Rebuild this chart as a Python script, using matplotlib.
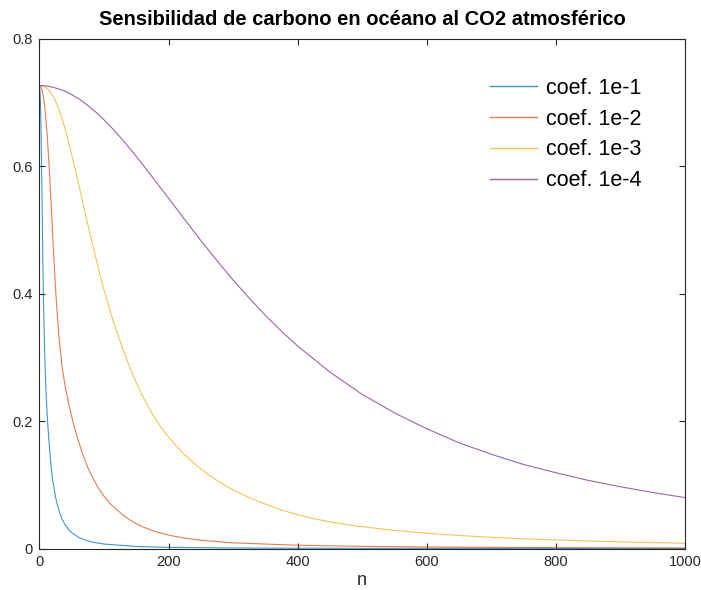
import matplotlib
matplotlib.use("Agg")
import matplotlib.pyplot as plt

plt.rcParams['font.family'] = ['Liberation Sans', 'DejaVu Sans']

# sensitivity curves, one per coefficient
n_1 = [0, 0.5, 1, 1.5, 2, 2.5, 3, 3.5, 4, 4.5, 5, 6, 7, 8, 9, 10, 11, 12, 13,
       15, 17, 20, 25, 30, 35, 40, 45, 50, 60, 70, 80, 100, 150, 200, 300,
       500, 1000]
s_1 = [0.727, 0.722, 0.715, 0.70, 0.68, 0.652, 0.62, 0.587, 0.55, 0.51, 0.47,
       0.40, 0.35, 0.31, 0.278, 0.25, 0.228, 0.21, 0.193, 0.165, 0.14, 0.11,
       0.08, 0.06, 0.046, 0.037, 0.03, 0.025, 0.018, 0.0135, 0.0105, 0.007,
       0.0032, 0.0018, 0.0008, 0.0003, 0.0001]

n_2 = [0, 2, 4, 6, 8, 10, 12, 14, 16, 18, 20, 22, 24, 26, 28, 30, 35, 40, 45,
       50, 55, 60, 65, 70, 75, 80, 90, 100, 110, 120, 130, 140, 150, 160, 170,
       180, 200, 225, 250, 300, 400, 500, 600, 700, 800, 900, 1000]
s_2 = [0.727, 0.725, 0.720, 0.71, 0.695, 0.673, 0.648, 0.617, 0.582, 0.543,
       0.502, 0.462, 0.425, 0.391, 0.361, 0.335, 0.285, 0.254, 0.229, 0.207,
       0.187, 0.170, 0.154, 0.140, 0.127, 0.116, 0.097, 0.082, 0.07, 0.061,
       0.052, 0.045, 0.039, 0.034, 0.030, 0.0265, 0.021, 0.0163, 0.013, 0.0089,
       0.0052, 0.0034, 0.0024, 0.0018, 0.0014, 0.0011, 0.0009]

n_3 = [0, 5, 10, 15, 20, 25, 30, 35, 40, 45, 50, 55, 60, 65, 70, 75, 80, 85,
       90, 95, 100, 107, 115, 122, 130, 137, 145, 152, 160, 170, 180, 190,
       200, 212, 225, 237, 250, 262, 275, 287, 300, 325, 350, 375, 400, 425,
       450, 475, 500, 550, 600, 650, 700, 750, 800, 850, 900, 950, 1000]
s_3 = [0.727, 0.726, 0.724, 0.719, 0.712, 0.702, 0.690, 0.675, 0.658, 0.638,
       0.618, 0.597, 0.575, 0.553, 0.530, 0.508, 0.487, 0.466, 0.445, 0.425,
       0.406, 0.381, 0.355, 0.334, 0.311, 0.292, 0.272, 0.256, 0.239, 0.220,
       0.203, 0.188, 0.175, 0.161, 0.147, 0.136, 0.125, 0.116, 0.107, 0.0995,
       0.092, 0.080, 0.0695, 0.0605, 0.053, 0.0468, 0.0418, 0.0377, 0.0343,
       0.0285, 0.024, 0.0205, 0.0175, 0.0152, 0.0134, 0.0118, 0.0105, 0.0093,
       0.0083]

n_4 = [0, 12.5, 25, 37.5, 50, 62.5, 75, 87.5, 100, 112.5, 125, 137.5, 150,
       162.5, 175, 187.5, 200, 225, 250, 275, 300, 325, 350, 375, 400, 450,
       500, 550, 600, 650, 700, 750, 800, 850, 900, 950, 1000]
s_4 = [0.727, 0.726, 0.723, 0.719, 0.7125, 0.705, 0.6955, 0.685, 0.673, 0.660,
       0.646, 0.631, 0.6155, 0.5995, 0.583, 0.5665, 0.550, 0.5165, 0.4835,
       0.452, 0.4215, 0.393, 0.366, 0.341, 0.318, 0.277, 0.242, 0.213, 0.188,
       0.166, 0.148, 0.132, 0.119, 0.107, 0.097, 0.088, 0.080]

labels = ['coef. 1e-1', 'coef. 1e-2', 'coef. 1e-3', 'coef. 1e-4']
colors = ['#0072bd', '#d95319', '#edb120', '#7e2f8e']

fig = plt.figure(figsize=[7.01, 5.90], dpi=100)
ax = fig.add_axes([0.0563, 0.0703, 0.9207, 0.8637])

for xs, ys, lab, col in zip([n_1, n_2, n_3, n_4], [s_1, s_2, s_3, s_4], labels, colors):
    ax.plot(xs, ys, color=col, lw=0.8, alpha=0.75, label=lab)

ax.set_xlim(0, 1000)
ax.set_ylim(0, 0.8)
ax.set_xticks([0, 200, 400, 600, 800, 1000])
ax.set_xticklabels(['0', '200', '400', '600', '800', '1000'])
ax.set_yticks([0, 0.2, 0.4, 0.6, 0.8])
ax.set_yticklabels(['0', '0.2', '0.4', '0.6', '0.8'])
ax.tick_params(direction='in', length=4.5, width=0.8, top=True, right=True,
               labelsize=10.5, colors='#262626', pad=5)
for sp in ax.spines.values():
    sp.set_color('#262626')
    sp.set_linewidth(0.8)

ax.set_xlabel('n', fontsize=13, color='#262626', labelpad=2)
ax.set_title('Sensibilidad de carbono en océano al CO2 atmosférico',
             fontsize=14.5, fontweight='bold', pad=10)

leg = ax.legend(loc='upper left', bbox_to_anchor=(0.668, 0.962), frameon=False,
                fontsize=15.5, handlelength=2.2, handletextpad=0.4,
                labelspacing=0.46)
for line in leg.get_lines():
    line.set_linewidth(1.0)

fig.savefig('out.png', dpi=100)
